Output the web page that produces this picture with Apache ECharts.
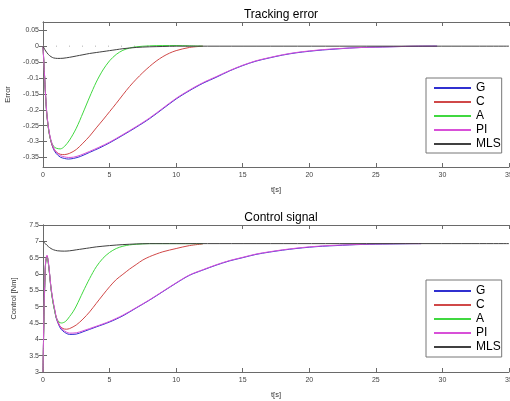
<!DOCTYPE html>
<html>
<head>
<meta charset="utf-8">
<script src="https://cdn.jsdelivr.net/npm/echarts@6/dist/echarts.min.js"></script>
<style>
html,body{margin:0;padding:0;background:#fff;}
#chart{width:510px;height:401px;}
</style>
</head>
<body>
<div id="chart"></div>
<script>
// tracking error
var errT_G = [0,0.1,0.2,0.3,0.45,0.6,0.8,1,1.3,1.6,1.9,2.3,2.8,3.5,4.2,5,6,7,8,9,10,11,12,13,14,15,16,17,18,19,20,21,22,23,24,25,26,27,28,29,29.6];
var errG   = [0,-0.08,-0.16,-0.22,-0.27,-0.30,-0.325,-0.338,-0.349,-0.353,-0.355,-0.353,-0.347,-0.334,-0.321,-0.304,-0.280,-0.255,-0.228,-0.197,-0.166,-0.140,-0.117,-0.098,-0.078,-0.061,-0.047,-0.037,-0.028,-0.021,-0.016,-0.012,-0.009,-0.006,-0.004,-0.003,-0.002,-0.001,-0.0005,0,0];
var errPI  = [0,-0.08,-0.158,-0.217,-0.266,-0.296,-0.32,-0.333,-0.344,-0.348,-0.35,-0.349,-0.343,-0.331,-0.318,-0.302,-0.278,-0.253,-0.226,-0.195,-0.164,-0.138,-0.115,-0.096,-0.077,-0.060,-0.046,-0.036,-0.027,-0.020,-0.015,-0.011,-0.008,-0.006,-0.004,-0.003,-0.002,-0.001,0,0,0];
var errT_C = [0,0.1,0.2,0.3,0.45,0.6,0.8,1,1.3,1.6,2,2.5,3,3.5,4,4.5,5,5.5,6,6.5,7,7.5,8,8.5,9,9.5,10,11,12];
var errC   = [0,-0.08,-0.16,-0.22,-0.27,-0.30,-0.322,-0.333,-0.34,-0.341,-0.337,-0.325,-0.305,-0.283,-0.257,-0.232,-0.206,-0.18,-0.153,-0.127,-0.104,-0.083,-0.064,-0.047,-0.033,-0.022,-0.014,-0.004,0];
var errT_A = [0,0.1,0.2,0.3,0.45,0.6,0.8,1,1.3,1.6,2,2.5,3,3.5,4,4.5,5,5.5,6,6.5,7,8,9,10,11,12];
var errA   = [0,-0.08,-0.16,-0.22,-0.27,-0.298,-0.315,-0.321,-0.323,-0.316,-0.295,-0.258,-0.21,-0.16,-0.113,-0.075,-0.046,-0.026,-0.013,-0.006,-0.002,0.001,0.002,0.002,0.001,0];
var errT_M = [0,0.2,0.4,0.6,0.8,1.1,1.5,2,2.5,3,3.5,4,4.5,5,5.5,6,7,8,9,10,35];
var errM   = [0,-0.015,-0.026,-0.033,-0.037,-0.0385,-0.038,-0.035,-0.031,-0.027,-0.023,-0.02,-0.017,-0.014,-0.011,-0.008,-0.004,-0.002,-0.001,0,0];
var refT   = [0,12];
var refV   = [0,0];

// control signal
var ctlT_G = [0,0.05,0.1,0.15,0.2,0.3,0.4,0.5,0.6,0.75,0.9,1,1.25,1.5,2,2.5,3,4,5,6,7,8,9,10,11,12,13,14,15,16,17,18,19,20,21,22,23,24,25,26,27,28,28.4];
var ctlG   = [3,4.2,5.2,5.9,6.35,6.55,6.35,5.97,5.56,5.15,4.84,4.64,4.38,4.25,4.15,4.16,4.23,4.38,4.53,4.72,4.96,5.2,5.46,5.72,5.96,6.12,6.27,6.4,6.5,6.6,6.67,6.73,6.78,6.82,6.85,6.87,6.89,6.905,6.915,6.92,6.925,6.93,6.93];
var ctlPI  = [3,4.3,5.3,5.95,6.4,6.58,6.38,6.0,5.6,5.19,4.88,4.68,4.42,4.29,4.19,4.2,4.26,4.4,4.55,4.74,4.97,5.21,5.47,5.73,5.97,6.13,6.28,6.41,6.51,6.61,6.68,6.74,6.79,6.83,6.86,6.88,6.895,6.91,6.92,6.925,6.93,6.93,6.93];
var ctlT_C = [0,0.05,0.1,0.15,0.2,0.3,0.4,0.5,0.6,0.75,0.9,1,1.25,1.5,1.75,2,2.5,3,3.5,4,4.5,5,5.5,6,6.5,7,7.5,8,8.5,9,10,11,12];
var ctlC   = [3,4.2,5.2,5.9,6.35,6.55,6.35,5.97,5.56,5.15,4.85,4.66,4.42,4.33,4.31,4.33,4.44,4.62,4.84,5.1,5.36,5.61,5.83,5.99,6.15,6.29,6.43,6.53,6.61,6.68,6.78,6.87,6.92];
var ctlT_A = [0,0.05,0.1,0.15,0.2,0.3,0.4,0.5,0.6,0.75,0.9,1,1.2,1.4,1.7,2,2.25,2.5,3,3.5,4,4.5,5,5.5,6,6.5,7,8,9,10,12];
var ctlA   = [3,4.2,5.2,5.9,6.35,6.52,6.33,5.96,5.55,5.12,4.82,4.66,4.53,4.5,4.55,4.7,4.84,5.02,5.45,5.86,6.22,6.48,6.66,6.78,6.85,6.89,6.91,6.93,6.93,6.93,6.93];
var ctlT_M = [0,0.2,0.4,0.6,0.8,1.1,1.6,2,2.5,3,3.5,4,5,6,7,8,10,35];
var ctlM   = [7.0,6.92,6.84,6.78,6.74,6.71,6.70,6.71,6.74,6.77,6.80,6.83,6.87,6.9,6.92,6.93,6.93,6.93];

var names = ['G','C','A','PI','MLS'];
var colors = ['#3030d0','#d04848','#40d840','#d850d8','#404040'];
var errTicks = [0.05,0,-0.05,-0.1,-0.15,-0.2,-0.25,-0.3,-0.35];

var font = 'Liberation Sans, Arial, sans-serif';
var boxColor = '#6a6a6a';

function zip(t, v){
    var out = [];
    for (var i = 0; i < t.length; i++) out.push([t[i], v[i]]);
    return out;
}

function line(name, t, v, color, idx){
    return {
        name: name,
        type: 'line',
        xAxisIndex: idx,
        yAxisIndex: idx,
        symbol: 'none',
        smooth: 0.3,
        lineStyle: {width: 1, color: color},
        itemStyle: {color: color},
        data: zip(t, v)
    };
}

function xAx(grid, pos, name){
    return {
        type: 'value', gridIndex: grid, position: pos,
        min: 0, max: 35, interval: 5,
        name: name, nameLocation: 'middle', nameGap: 19,
        nameTextStyle: {fontSize: 7.5, color: '#333', fontFamily: font},
        axisLine: {show: true, onZero: false, lineStyle: {color: boxColor}},
        axisTick: {show: true, inside: true, length: 4, lineStyle: {color: boxColor}},
        axisLabel: {show: pos === 'bottom', fontSize: 7, color: '#444', margin: 5, fontFamily: font},
        splitLine: {show: false}
    };
}

function legendAt(top, pad){
    return {
        orient: 'vertical', left: 426, top: top,
        data: names,
        itemWidth: 37, itemHeight: 14, itemGap: 2,
        padding: pad,
        borderColor: '#777', borderWidth: 1,
        backgroundColor: '#fff',
        itemStyle: {opacity: 0},
        textStyle: {fontSize: 12, color: '#000', fontFamily: font}
    };
}

var chart = echarts.init(document.getElementById('chart'));
var option = {
    animation: false,
    backgroundColor: '#fff',
    title: [
        {text: 'Tracking error', left: 276, top: 4, textAlign: 'center',
         textStyle: {fontSize: 12, fontWeight: 'normal', color: '#000', fontFamily: font}},
        {text: 'Control signal', left: 276, top: 207, textAlign: 'center',
         textStyle: {fontSize: 12, fontWeight: 'normal', color: '#000', fontFamily: font}}
    ],
    grid: [
        {left: 43, top: 22, width: 466, height: 145, outerBoundsMode: 'none', containLabel: false},
        {left: 43, top: 225, width: 466, height: 147, outerBoundsMode: 'none', containLabel: false}
    ],
    legend: [legendAt(78, [4,1,3,7]), legendAt(280, [5,1,4,7])],
    xAxis: [
        xAx(0, 'bottom', 't[s]'),
        xAx(1, 'bottom', 't[s]'),
        xAx(0, 'top', ''),
        xAx(1, 'top', '')
    ],
    yAxis: [
        {type: 'value', gridIndex: 0, position: 'left', min: -0.38, max: 0.076,
         name: 'Error', nameLocation: 'middle', nameGap: 28,
         nameTextStyle: {fontSize: 7.5, color: '#333', fontFamily: font},
         axisLine: {show: true, lineStyle: {color: boxColor}},
         axisTick: {show: true, inside: true, length: 4, customValues: errTicks, lineStyle: {color: boxColor}},
         axisLabel: {fontSize: 7, color: '#444', margin: 4, fontFamily: font, customValues: errTicks,
                     formatter: function(v){ return String(v); }},
         splitLine: {show: false}},
        {type: 'value', gridIndex: 1, position: 'left', min: 3, max: 7.5, interval: 0.5,
         name: 'Control [Nm]', nameLocation: 'middle', nameGap: 22,
         nameTextStyle: {fontSize: 7.5, color: '#333', fontFamily: font},
         axisLine: {show: true, lineStyle: {color: boxColor}},
         axisTick: {show: true, inside: true, length: 4, lineStyle: {color: boxColor}},
         axisLabel: {fontSize: 7, color: '#444', margin: 4, fontFamily: font},
         splitLine: {show: false}},
        {type: 'value', gridIndex: 0, position: 'right', min: -0.38, max: 0.076,
         axisLine: {show: true, lineStyle: {color: boxColor}},
         axisTick: {show: true, inside: true, length: 4, customValues: errTicks, lineStyle: {color: boxColor}},
         axisLabel: {show: false}, splitLine: {show: false}},
        {type: 'value', gridIndex: 1, position: 'right', min: 3, max: 7.5, interval: 0.5,
         axisLine: {show: true, lineStyle: {color: boxColor}},
         axisTick: {show: true, inside: true, length: 4, lineStyle: {color: boxColor}},
         axisLabel: {show: false}, splitLine: {show: false}}
    ],
    series: [
        {name: 'ref', type: 'line', xAxisIndex: 0, yAxisIndex: 0, symbol: 'none',
         lineStyle: {width: 1, color: '#b0b0b0', type: [1, 12]}, data: zip(refT, refV)},
        line('G', errT_G, errG, colors[0], 0),
        line('C', errT_C, errC, colors[1], 0),
        line('A', errT_A, errA, colors[2], 0),
        line('PI', errT_G, errPI, colors[3], 0),
        line('MLS', errT_M, errM, colors[4], 0),
        line('G', ctlT_G, ctlG, colors[0], 1),
        line('C', ctlT_C, ctlC, colors[1], 1),
        line('A', ctlT_A, ctlA, colors[2], 1),
        line('PI', ctlT_G, ctlPI, colors[3], 1),
        line('MLS', ctlT_M, ctlM, colors[4], 1)
    ]
};
chart.setOption(option);
</script>
</body>
</html>
